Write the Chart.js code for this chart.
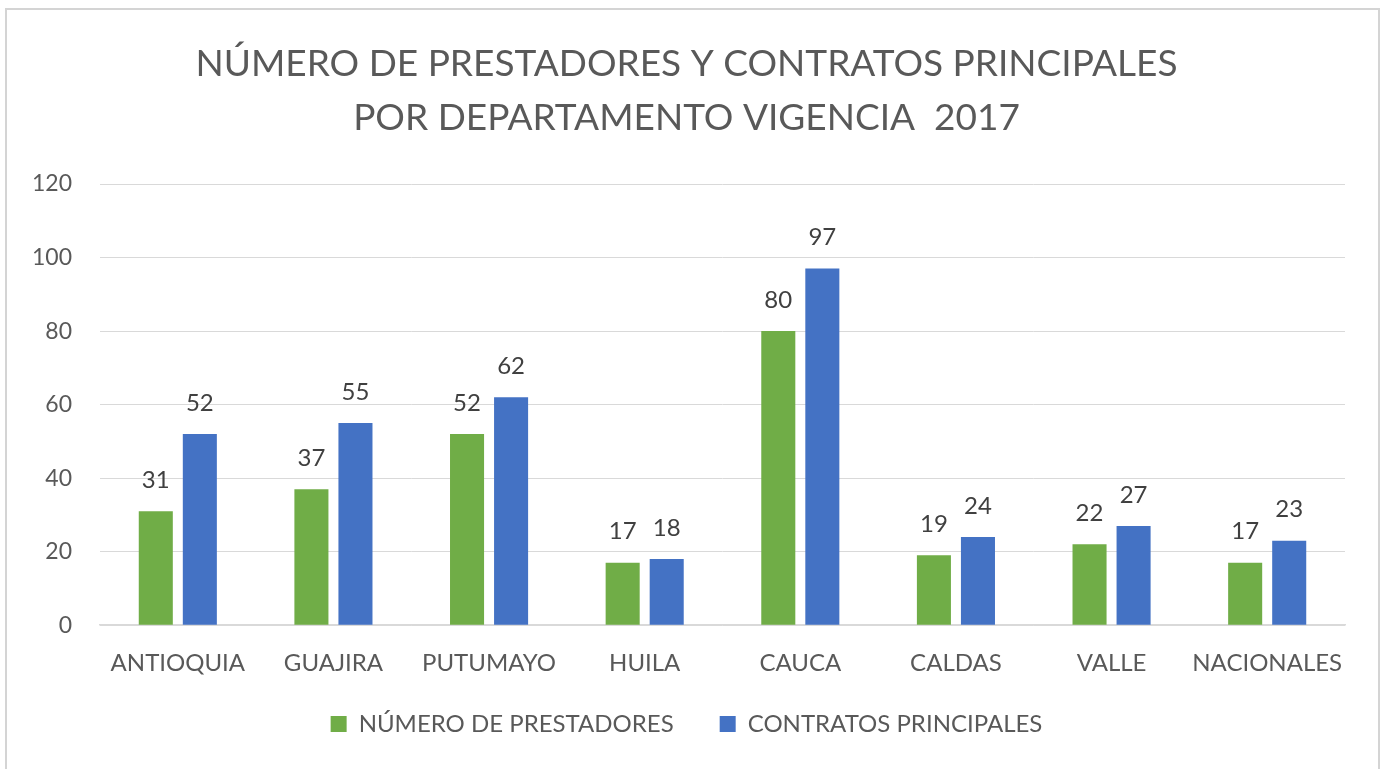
<!DOCTYPE html>
<html>
<head>
<meta charset="utf-8">
<script src="https://cdn.jsdelivr.net/npm/chart.js@4/dist/chart.umd.min.js"></script>
<style>
  html, body { margin: 0; padding: 0; background: #fff; }
  #wrap { position: relative; width: 1383px; height: 769px; }
  #frame { position: absolute; left: 5px; top: 8px; width: 1371px; height: 770px;
           border: 2px solid #d4d4d4; pointer-events: none; }
</style>
</head>
<body>
<div id="wrap">
  <canvas id="grafico" width="1383" height="769"></canvas>
  <div id="frame"></div>
</div>
<script>
// Datos del grafico
var departamentos = ["ANTIOQUIA", "GUAJIRA", "PUTUMAYO", "HUILA", "CAUCA", "CALDAS", "VALLE", "NACIONALES"];
var prestadores = [31, 37, 52, 17, 80, 19, 22, 17];
var contratos = [52, 55, 62, 18, 97, 24, 27, 23];
var tituloLineas = ["NÚMERO DE PRESTADORES Y CONTRATOS PRINCIPALES", "POR DEPARTAMENTO VIGENCIA  2017"];

var fuente = "Lato, 'Open Sans', sans-serif";
var gris = "#595959";

// etiquetas encima de las barras (no hay plugin datalabels)
var etiquetas = {
  id: "etiquetas",
  afterDatasetsDraw: function (chart) {
    var ctx = chart.ctx;
    ctx.save();
    ctx.font = "24px " + fuente;
    ctx.fillStyle = "#404040";
    ctx.textAlign = "center";
    ctx.textBaseline = "middle";
    chart.data.datasets.forEach(function (ds, i) {
      chart.getDatasetMeta(i).data.forEach(function (bar, j) {
        ctx.fillText(ds.data[j], bar.x, bar.y - 31);
      });
    });
    ctx.restore();
  }
};

new Chart(document.getElementById("grafico"), {
  type: "bar",
  data: {
    labels: departamentos,
    datasets: [
      { label: "NÚMERO DE PRESTADORES", data: prestadores, backgroundColor: "#70AD47" },
      { label: "CONTRATOS PRINCIPALES", data: contratos, backgroundColor: "#4472C4" }
    ]
  },
  options: {
    responsive: false,
    animation: false,
    categoryPercentage: 0.566,
    barPercentage: 0.773,
    layout: { padding: { top: 37, left: 28, right: 38, bottom: 23 } },
    plugins: {
      title: {
        display: true,
        text: tituloLineas,
        color: gris,
        font: { family: fuente, size: 37, weight: "normal", lineHeight: 1.46 },
        padding: { top: 0, bottom: 39 }
      },
      legend: {
        position: "bottom",
        labels: {
          color: gris,
          font: { family: fuente, size: 24 },
          boxWidth: 16,
          boxHeight: 16,
          padding: 10,
          generateLabels: function (chart) {
            var items = Chart.defaults.plugins.legend.labels.generateLabels(chart);
            // separacion extra entre los dos elementos de la leyenda
            items[0].text = items[0].text + "\u2003\u2003";
            return items;
          }
        }
      },
      tooltip: { enabled: false }
    },
    scales: {
      x: {
        grid: { display: false, drawTicks: false },
        border: { color: "#d9d9d9", width: 1.5 },
        ticks: { color: gris, font: { family: fuente, size: 24 }, padding: 24, maxRotation: 0 }
      },
      y: {
        min: 0,
        max: 120,
        grid: { color: "#d9d9d9", drawTicks: false },
        border: { display: false },
        ticks: { stepSize: 20, color: gris, font: { family: fuente, size: 23 }, padding: 28 },
        afterFit: function (scale) { scale.width = 72; }
      }
    }
  },
  plugins: [etiquetas]
});
</script>
</body>
</html>
